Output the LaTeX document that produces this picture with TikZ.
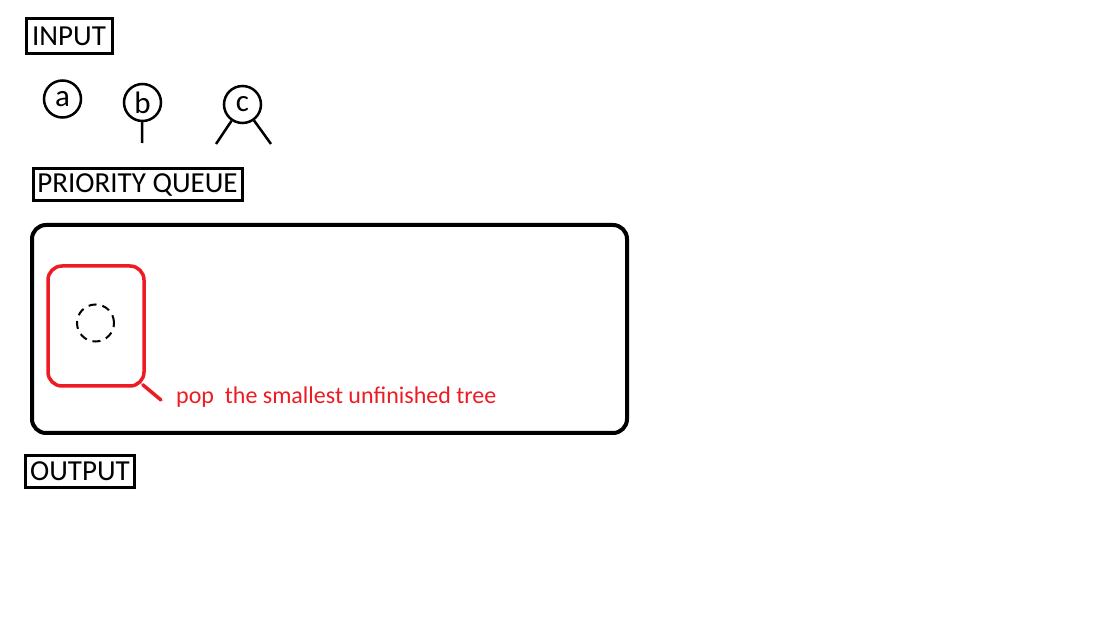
\documentclass[tikz,border=0pt]{standalone}
\usepackage{fontspec}
\setmainfont{Carlito}
\definecolor{pred}{RGB}{237,28,36}
\begin{document}
\begin{tikzpicture}[x=1pt,y=-1pt,
  label box/.style={draw,line width=3pt,inner sep=0pt,font=\fontsize{29}{31}\selectfont},
  tnode/.style={draw,circle,line width=2.5pt,minimum size=37pt,inner sep=0pt,font=\fontsize{31}{33}\selectfont},
  edge/.style={line width=2.5pt},
  queue/.style={draw,line width=4pt,rounded corners=14pt},
  popbox/.style={draw=pred,line width=3.5pt,rounded corners=14pt},
]
\useasboundingbox (0,0) rectangle (1120,620);
\node[label box,minimum width=86pt,minimum height=35pt] (input) at (69,36.5) {INPUT};
\node[tnode] (a) at (62.5,99) {a};
\node[tnode] (b) at (142.5,102.5) {b};
\coordinate (bl) at (142,143);
\draw[edge] (b) -- (bl);
\node[tnode] (c) at (242.5,104.5) {c};
\coordinate (cl) at (216,144);
\coordinate (cr) at (271,144);
\draw[edge] (c) -- (cl);
\draw[edge] (c) -- (cr);
\node[label box,minimum width=209pt,minimum height=32pt] (pq) at (137.5,185) {PRIORITY QUEUE};
\node[queue,minimum width=595pt,minimum height=208pt] (queue) at (329.5,329) {};
\node[popbox,minimum width=96pt,minimum height=120pt] (pop) at (96,326) {};
\node[draw,circle,dashed,dash pattern=on 8pt off 6pt,line width=2pt,minimum size=37pt,inner sep=0pt] (empty) at (95.5,323) {};
\coordinate (popend) at (161,400);
\draw[pred,line width=3.5pt,line cap=round] (pop.south east) ++(-3,-3) coordinate (popcorner) -- (popend);
\node[anchor=base west,text=pred,font=\fontsize{24}{26}\selectfont,inner sep=0pt] (poptext) at (176,404) {pop\ \ the smallest unfinished tree};
\node[label box,minimum width=109pt,minimum height=32pt] (output) at (80,471) {OUTPUT};
\end{tikzpicture}
\end{document}
